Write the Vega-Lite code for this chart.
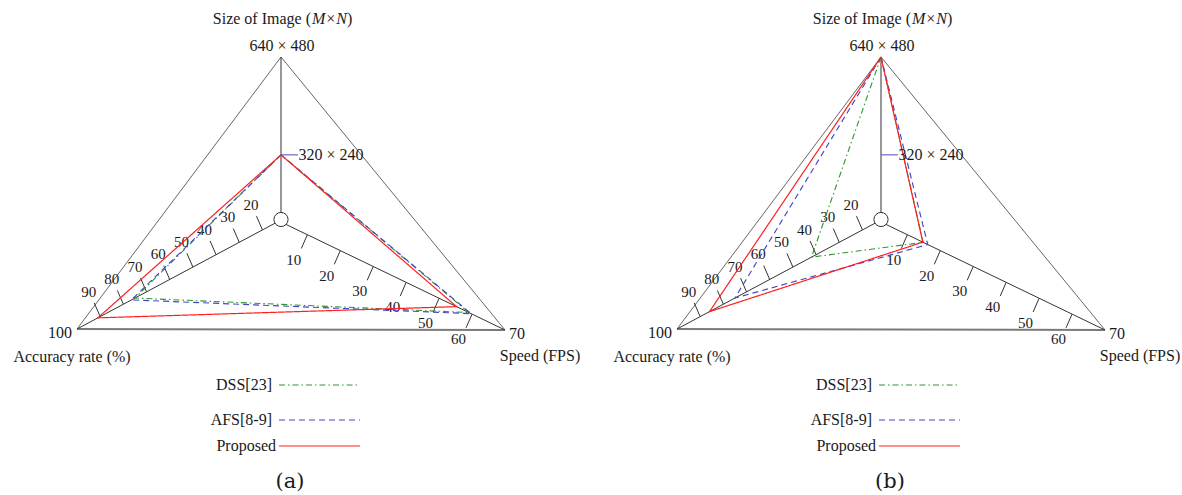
{
  "$schema": "https://vega.github.io/schema/vega-lite/v6.json",
  "width": 1182,
  "height": 495,
  "autosize": {"type": "fit", "contains": "padding"},
  "padding": 0,
  "background": "white",
  "config": {
    "view": {"stroke": null},
    "text": {"font": "Liberation Serif", "fontSize": 16, "color": "#1a1a1a", "baseline": "middle"}
  },
  "datasets": {
    "scores": [
      {"panel": "a", "method": "DSS[23]", "axis": "size", "value": 320, "o": 1},
      {"panel": "a", "method": "DSS[23]", "axis": "acc", "value": 75, "o": 2},
      {"panel": "a", "method": "DSS[23]", "axis": "spd", "value": 59, "o": 3},
      {"panel": "a", "method": "DSS[23]", "axis": "size", "value": 320, "o": 4},
      {"panel": "a", "method": "AFS[8-9]", "axis": "size", "value": 320, "o": 1},
      {"panel": "a", "method": "AFS[8-9]", "axis": "acc", "value": 76.5, "o": 2},
      {"panel": "a", "method": "AFS[8-9]", "axis": "spd", "value": 59.7, "o": 3},
      {"panel": "a", "method": "AFS[8-9]", "axis": "size", "value": 320, "o": 4},
      {"panel": "a", "method": "Proposed", "axis": "size", "value": 320, "o": 1},
      {"panel": "a", "method": "Proposed", "axis": "acc", "value": 91, "o": 2},
      {"panel": "a", "method": "Proposed", "axis": "spd", "value": 55.3, "o": 3},
      {"panel": "a", "method": "Proposed", "axis": "size", "value": 320, "o": 4},
      {"panel": "b", "method": "DSS[23]", "axis": "size", "value": 640, "o": 1},
      {"panel": "b", "method": "DSS[23]", "axis": "acc", "value": 42, "o": 2},
      {"panel": "b", "method": "DSS[23]", "axis": "spd", "value": 14.8, "o": 3},
      {"panel": "b", "method": "DSS[23]", "axis": "size", "value": 640, "o": 4},
      {"panel": "b", "method": "AFS[8-9]", "axis": "size", "value": 640, "o": 1},
      {"panel": "b", "method": "AFS[8-9]", "axis": "acc", "value": 75, "o": 2},
      {"panel": "b", "method": "AFS[8-9]", "axis": "spd", "value": 16.2, "o": 3},
      {"panel": "b", "method": "AFS[8-9]", "axis": "size", "value": 640, "o": 4},
      {"panel": "b", "method": "Proposed", "axis": "size", "value": 640, "o": 1},
      {"panel": "b", "method": "Proposed", "axis": "acc", "value": 86, "o": 2},
      {"panel": "b", "method": "Proposed", "axis": "spd", "value": 14.7, "o": 3},
      {"panel": "b", "method": "Proposed", "axis": "size", "value": 640, "o": 4}
    ],
    "frame": [
      {"panel": ["a", "b"], "seg": "edgeL", "axis": "size", "value": 640, "o": 1},
      {"panel": ["a", "b"], "seg": "edgeL", "axis": "acc", "value": 100, "o": 2},
      {"panel": ["a", "b"], "seg": "edgeR", "axis": "size", "value": 640, "o": 1},
      {"panel": ["a", "b"], "seg": "edgeR", "axis": "spd", "value": 70, "o": 2},
      {"panel": ["a", "b"], "seg": "base", "axis": "acc", "value": 100, "o": 1},
      {"panel": ["a", "b"], "seg": "base", "axis": "spd", "value": 70, "o": 2},
      {"panel": ["a", "b"], "seg": "axS", "axis": "size", "value": 107, "o": 1},
      {"panel": ["a", "b"], "seg": "axS", "axis": "size", "value": 640, "o": 2},
      {"panel": ["a", "b"], "seg": "axA", "axis": "acc", "value": 12, "o": 1},
      {"panel": ["a", "b"], "seg": "axA", "axis": "acc", "value": 100, "o": 2},
      {"panel": ["a", "b"], "seg": "axP", "axis": "spd", "value": 2, "o": 1},
      {"panel": ["a", "b"], "seg": "axP", "axis": "spd", "value": 70, "o": 2}
    ],
    "ticks": [
      {"panel": ["a", "b"], "axis": "acc", "value": 20},
      {"panel": ["a", "b"], "axis": "acc", "value": 30},
      {"panel": ["a", "b"], "axis": "acc", "value": 40},
      {"panel": ["a", "b"], "axis": "acc", "value": 50},
      {"panel": ["a", "b"], "axis": "acc", "value": 60},
      {"panel": ["a", "b"], "axis": "acc", "value": 70},
      {"panel": ["a", "b"], "axis": "acc", "value": 80},
      {"panel": ["a", "b"], "axis": "acc", "value": 90},
      {"panel": ["a", "b"], "axis": "spd", "value": 10},
      {"panel": ["a", "b"], "axis": "spd", "value": 20},
      {"panel": ["a", "b"], "axis": "spd", "value": 30},
      {"panel": ["a", "b"], "axis": "spd", "value": 40},
      {"panel": ["a", "b"], "axis": "spd", "value": 50},
      {"panel": ["a", "b"], "axis": "spd", "value": 60}
    ],
    "center": [
      {"panel": ["a", "b"], "axis": "acc", "value": 12}
    ],
    "sizetick": [
      {"panel": ["a", "b"], "axis": "size", "value": 320}
    ],
    "vlabels": [
      {"panel": ["a", "b"], "axis": "acc", "value": 100, "text": "100"},
      {"panel": ["a", "b"], "axis": "spd", "value": 70, "text": "70"},
      {"panel": ["a", "b"], "axis": "size", "value": 640, "text": "640 × 480"},
      {"panel": ["a", "b"], "axis": "size", "value": 320, "text": "320 × 240"}
    ],
    "titles": [
      {"panel": ["a", "b"], "axis": "acc", "value": 100, "part": "acc", "text": "Accuracy rate (%)"},
      {"panel": ["a", "b"], "axis": "spd", "value": 70, "part": "spd", "text": "Speed (FPS)"},
      {"panel": ["a", "b"], "axis": "size", "value": 640, "part": "s1", "text": "Size of Image ("},
      {"panel": ["a", "b"], "axis": "size", "value": 640, "part": "s2", "text": "M×N"},
      {"panel": ["a", "b"], "axis": "size", "value": 640, "part": "s3", "text": ")"}
    ],
    "legend": [
      {"panel": ["a", "b"], "method": "DSS[23]"},
      {"panel": ["a", "b"], "method": "AFS[8-9]"},
      {"panel": ["a", "b"], "method": "Proposed"}
    ],
    "captions": [
      {"panel": "a", "text": "(a)"},
      {"panel": "b", "text": "(b)"}
    ]
  },
  "encoding": {
    "x": {"field": "x", "type": "quantitative", "scale": {"domain": [0, 1182], "nice": false, "zero": false}, "axis": null},
    "y": {"field": "y", "type": "quantitative", "scale": {"domain": [0, 495], "nice": false, "zero": false, "reverse": true}, "axis": null}
  },
  "layer": [
    {
      "data": {"name": "frame"},
      "transform": [
        {"flatten": ["panel"]},
        {"filter": "datum.seg === 'edgeL' || datum.seg === 'edgeR'"},
        {"calculate": "datum.panel === 'b' ? 600 : 0", "as": "dx"},
        {"calculate": "datum.axis === 'acc' ? (datum.value - 12) / 88 : datum.axis === 'spd' ? (datum.value - 2) / 68 : (datum.value - 107) / 533", "as": "t"},
        {"calculate": "281 + datum.dx + datum.t * (datum.axis === 'acc' ? -204 : datum.axis === 'spd' ? 224 : 0)", "as": "x"},
        {"calculate": "(datum.axis === 'spd' ? 222 : 220) + datum.t * (datum.axis === 'acc' ? 109 : datum.axis === 'spd' ? 108 : -163)", "as": "y"}
      ],
      "mark": {"type": "line", "color": "#555555", "strokeWidth": 0.9},
      "encoding": {"detail": [{"field": "panel"}, {"field": "seg"}], "order": {"field": "o", "type": "quantitative"}}
    },
    {
      "data": {"name": "frame"},
      "transform": [
        {"flatten": ["panel"]},
        {"filter": "datum.seg === 'base'"},
        {"calculate": "datum.panel === 'b' ? 600 : 0", "as": "dx"},
        {"calculate": "datum.axis === 'acc' ? (datum.value - 12) / 88 : datum.axis === 'spd' ? (datum.value - 2) / 68 : (datum.value - 107) / 533", "as": "t"},
        {"calculate": "281 + datum.dx + datum.t * (datum.axis === 'acc' ? -204 : datum.axis === 'spd' ? 224 : 0)", "as": "x"},
        {"calculate": "(datum.axis === 'spd' ? 222 : 220) + datum.t * (datum.axis === 'acc' ? 109 : datum.axis === 'spd' ? 108 : -163)", "as": "y"}
      ],
      "mark": {"type": "line", "color": "#7a7a7a", "strokeWidth": 2},
      "encoding": {"detail": [{"field": "panel"}, {"field": "seg"}], "order": {"field": "o", "type": "quantitative"}}
    },
    {
      "data": {"name": "frame"},
      "transform": [
        {"flatten": ["panel"]},
        {"filter": "datum.seg === 'axS' || datum.seg === 'axA' || datum.seg === 'axP'"},
        {"calculate": "datum.panel === 'b' ? 600 : 0", "as": "dx"},
        {"calculate": "datum.axis === 'acc' ? (datum.value - 12) / 88 : datum.axis === 'spd' ? (datum.value - 2) / 68 : (datum.value - 107) / 533", "as": "t"},
        {"calculate": "281 + datum.dx + datum.t * (datum.axis === 'acc' ? -204 : datum.axis === 'spd' ? 224 : 0)", "as": "x"},
        {"calculate": "(datum.axis === 'spd' ? 222 : 220) + datum.t * (datum.axis === 'acc' ? 109 : datum.axis === 'spd' ? 108 : -163)", "as": "y"}
      ],
      "mark": {"type": "line", "color": "#333333", "strokeWidth": 1},
      "encoding": {"detail": [{"field": "panel"}, {"field": "seg"}], "order": {"field": "o", "type": "quantitative"}}
    },
    {
      "data": {"name": "ticks"},
      "transform": [
        {"flatten": ["panel"]},
        {"calculate": "datum.panel === 'b' ? 600 : 0", "as": "dx"},
        {"calculate": "datum.axis === 'acc' ? (datum.value - 12) / 88 : datum.axis === 'spd' ? (datum.value - 2) / 68 : (datum.value - 107) / 533", "as": "t"},
        {"calculate": "281 + datum.dx + datum.t * (datum.axis === 'acc' ? -204 : datum.axis === 'spd' ? 224 : 0)", "as": "x"},
        {"calculate": "(datum.axis === 'spd' ? 222 : 220) + datum.t * (datum.axis === 'acc' ? 109 : datum.axis === 'spd' ? 108 : -163)", "as": "y"},
        {"calculate": "datum.x - 15 * 0.4", "as": "x2"},
        {"calculate": "datum.y + 15 * (datum.axis === 'acc' ? -0.917 : 0.917)", "as": "y2"}
      ],
      "mark": {"type": "rule", "color": "#333333", "strokeWidth": 1},
      "encoding": {"x2": {"field": "x2"}, "y2": {"field": "y2"}}
    },
    {
      "data": {"name": "ticks"},
      "transform": [
        {"flatten": ["panel"]},
        {"calculate": "datum.panel === 'b' ? 600 : 0", "as": "dx"},
        {"calculate": "datum.axis === 'acc' ? (datum.value - 12) / 88 : datum.axis === 'spd' ? (datum.value - 2) / 68 : (datum.value - 107) / 533", "as": "t"},
        {"calculate": "281 + datum.dx + datum.t * (datum.axis === 'acc' ? -204 : datum.axis === 'spd' ? 224 : 0)", "as": "x"},
        {"calculate": "(datum.axis === 'spd' ? 222 : 220) + datum.t * (datum.axis === 'acc' ? 109 : datum.axis === 'spd' ? 108 : -163)", "as": "y"},
        {"calculate": "datum.x + (datum.axis === 'acc' ? -11.5 : -13.5)", "as": "x"},
        {"calculate": "datum.y + (datum.axis === 'acc' ? -25 : 25)", "as": "y"}
      ],
      "mark": {"type": "text", "align": "center", "fontSize": 15},
      "encoding": {"text": {"field": "value", "type": "nominal"}}
    },
    {
      "data": {"name": "center"},
      "transform": [
        {"flatten": ["panel"]},
        {"calculate": "datum.panel === 'b' ? 600 : 0", "as": "dx"},
        {"calculate": "281 + datum.dx", "as": "x"},
        {"calculate": "219.5", "as": "y"}
      ],
      "mark": {"type": "point", "shape": "circle", "filled": true, "fill": "white", "stroke": "#333333", "strokeWidth": 1, "size": 200, "opacity": 1}
    },
    {
      "data": {"name": "sizetick"},
      "transform": [
        {"flatten": ["panel"]},
        {"calculate": "datum.panel === 'b' ? 600 : 0", "as": "dx"},
        {"calculate": "datum.axis === 'acc' ? (datum.value - 12) / 88 : datum.axis === 'spd' ? (datum.value - 2) / 68 : (datum.value - 107) / 533", "as": "t"},
        {"calculate": "281 + datum.dx + datum.t * (datum.axis === 'acc' ? -204 : datum.axis === 'spd' ? 224 : 0)", "as": "x"},
        {"calculate": "(datum.axis === 'spd' ? 222 : 220) + datum.t * (datum.axis === 'acc' ? 109 : datum.axis === 'spd' ? 108 : -163)", "as": "y"},
        {"calculate": "datum.x + 17", "as": "x2"}
      ],
      "mark": {"type": "rule", "color": "#4a4ac4", "strokeWidth": 1},
      "encoding": {"x2": {"field": "x2"}}
    },
    {
      "data": {"name": "scores"},
      "transform": [
        {"calculate": "datum.panel === 'b' ? 600 : 0", "as": "dx"},
        {"calculate": "datum.axis === 'acc' ? (datum.value - 12) / 88 : datum.axis === 'spd' ? (datum.value - 2) / 68 : (datum.value - 107) / 533", "as": "t"},
        {"calculate": "281 + datum.dx + datum.t * (datum.axis === 'acc' ? -204 : datum.axis === 'spd' ? 224 : 0)", "as": "x"},
        {"calculate": "(datum.axis === 'spd' ? 222 : 220) + datum.t * (datum.axis === 'acc' ? 109 : datum.axis === 'spd' ? 108 : -163)", "as": "y"}
      ],
      "mark": {"type": "line"},
      "encoding": {
        "detail": {"field": "panel"},
        "order": {"field": "o", "type": "quantitative"},
        "color": {"field": "method", "type": "nominal", "scale": {"domain": ["DSS[23]", "AFS[8-9]", "Proposed"], "range": ["#2f962f", "#4646c4", "#ff1f1f"]}, "legend": null},
        "strokeDash": {"field": "method", "type": "nominal", "scale": {"domain": ["DSS[23]", "AFS[8-9]", "Proposed"], "range": [[6, 3, 1.5, 3], [6, 4], [1, 0]]}, "legend": null},
        "strokeWidth": {"field": "method", "type": "nominal", "scale": {"domain": ["DSS[23]", "AFS[8-9]", "Proposed"], "range": [1.1, 1.2, 1.8]}, "legend": null}
      }
    },
    {
      "data": {"name": "vlabels"},
      "transform": [
        {"flatten": ["panel"]},
        {"filter": "datum.axis === 'acc'"},
        {"calculate": "datum.panel === 'b' ? 600 : 0", "as": "dx"},
        {"calculate": "datum.axis === 'acc' ? (datum.value - 12) / 88 : datum.axis === 'spd' ? (datum.value - 2) / 68 : (datum.value - 107) / 533", "as": "t"},
        {"calculate": "281 + datum.dx + datum.t * (datum.axis === 'acc' ? -204 : datum.axis === 'spd' ? 224 : 0)", "as": "x"},
        {"calculate": "(datum.axis === 'spd' ? 222 : 220) + datum.t * (datum.axis === 'acc' ? 109 : datum.axis === 'spd' ? 108 : -163)", "as": "y"},
        {"calculate": "datum.x - 5", "as": "x"},
        {"calculate": "datum.y + 4", "as": "y"}
      ],
      "mark": {"type": "text", "align": "right"},
      "encoding": {"text": {"field": "text"}}
    },
    {
      "data": {"name": "vlabels"},
      "transform": [
        {"flatten": ["panel"]},
        {"filter": "datum.axis === 'spd' || datum.value === 320"},
        {"calculate": "datum.panel === 'b' ? 600 : 0", "as": "dx"},
        {"calculate": "datum.axis === 'acc' ? (datum.value - 12) / 88 : datum.axis === 'spd' ? (datum.value - 2) / 68 : (datum.value - 107) / 533", "as": "t"},
        {"calculate": "281 + datum.dx + datum.t * (datum.axis === 'acc' ? -204 : datum.axis === 'spd' ? 224 : 0)", "as": "x"},
        {"calculate": "(datum.axis === 'spd' ? 222 : 220) + datum.t * (datum.axis === 'acc' ? 109 : datum.axis === 'spd' ? 108 : -163)", "as": "y"},
        {"calculate": "datum.x + (datum.axis === 'spd' ? 4 : 17.5)", "as": "x"},
        {"calculate": "datum.y + (datum.axis === 'spd' ? 4 : 0)", "as": "y"}
      ],
      "mark": {"type": "text", "align": "left"},
      "encoding": {"text": {"field": "text"}}
    },
    {
      "data": {"name": "vlabels"},
      "transform": [
        {"flatten": ["panel"]},
        {"filter": "datum.value === 640"},
        {"calculate": "datum.panel === 'b' ? 600 : 0", "as": "dx"},
        {"calculate": "datum.axis === 'acc' ? (datum.value - 12) / 88 : datum.axis === 'spd' ? (datum.value - 2) / 68 : (datum.value - 107) / 533", "as": "t"},
        {"calculate": "281 + datum.dx + datum.t * (datum.axis === 'acc' ? -204 : datum.axis === 'spd' ? 224 : 0)", "as": "x"},
        {"calculate": "(datum.axis === 'spd' ? 222 : 220) + datum.t * (datum.axis === 'acc' ? 109 : datum.axis === 'spd' ? 108 : -163)", "as": "y"},
        {"calculate": "datum.x + 1", "as": "x"},
        {"calculate": "datum.y - 11", "as": "y"}
      ],
      "mark": {"type": "text", "align": "center"},
      "encoding": {"text": {"field": "text"}}
    },
    {
      "data": {"name": "titles"},
      "transform": [
        {"flatten": ["panel"]},
        {"filter": "datum.part === 'acc' || datum.part === 'spd'"},
        {"calculate": "datum.panel === 'b' ? 600 : 0", "as": "dx"},
        {"calculate": "datum.axis === 'acc' ? (datum.value - 12) / 88 : datum.axis === 'spd' ? (datum.value - 2) / 68 : (datum.value - 107) / 533", "as": "t"},
        {"calculate": "281 + datum.dx + datum.t * (datum.axis === 'acc' ? -204 : datum.axis === 'spd' ? 224 : 0)", "as": "x"},
        {"calculate": "(datum.axis === 'spd' ? 222 : 220) + datum.t * (datum.axis === 'acc' ? 109 : datum.axis === 'spd' ? 108 : -163)", "as": "y"},
        {"calculate": "datum.x + (datum.part === 'acc' ? -5 : 35)", "as": "x"},
        {"calculate": "datum.y + (datum.part === 'acc' ? 28 : 26)", "as": "y"}
      ],
      "mark": {"type": "text", "align": "center"},
      "encoding": {"text": {"field": "text"}}
    },
    {
      "data": {"name": "titles"},
      "transform": [
        {"flatten": ["panel"]},
        {"filter": "datum.part === 's1'"},
        {"calculate": "datum.panel === 'b' ? 600 : 0", "as": "dx"},
        {"calculate": "datum.axis === 'acc' ? (datum.value - 12) / 88 : datum.axis === 'spd' ? (datum.value - 2) / 68 : (datum.value - 107) / 533", "as": "t"},
        {"calculate": "281 + datum.dx + datum.t * (datum.axis === 'acc' ? -204 : datum.axis === 'spd' ? 224 : 0)", "as": "x"},
        {"calculate": "(datum.axis === 'spd' ? 222 : 220) + datum.t * (datum.axis === 'acc' ? 109 : datum.axis === 'spd' ? 108 : -163)", "as": "y"},
        {"calculate": "datum.x + 30", "as": "x"},
        {"calculate": "datum.y - 38", "as": "y"}
      ],
      "mark": {"type": "text", "align": "right"},
      "encoding": {"text": {"field": "text"}}
    },
    {
      "data": {"name": "titles"},
      "transform": [
        {"flatten": ["panel"]},
        {"filter": "datum.part === 's2'"},
        {"calculate": "datum.panel === 'b' ? 600 : 0", "as": "dx"},
        {"calculate": "datum.axis === 'acc' ? (datum.value - 12) / 88 : datum.axis === 'spd' ? (datum.value - 2) / 68 : (datum.value - 107) / 533", "as": "t"},
        {"calculate": "281 + datum.dx + datum.t * (datum.axis === 'acc' ? -204 : datum.axis === 'spd' ? 224 : 0)", "as": "x"},
        {"calculate": "(datum.axis === 'spd' ? 222 : 220) + datum.t * (datum.axis === 'acc' ? 109 : datum.axis === 'spd' ? 108 : -163)", "as": "y"},
        {"calculate": "datum.x + 31", "as": "x"},
        {"calculate": "datum.y - 38", "as": "y"}
      ],
      "mark": {"type": "text", "align": "left", "fontStyle": "italic"},
      "encoding": {"text": {"field": "text"}}
    },
    {
      "data": {"name": "titles"},
      "transform": [
        {"flatten": ["panel"]},
        {"filter": "datum.part === 's3'"},
        {"calculate": "datum.panel === 'b' ? 600 : 0", "as": "dx"},
        {"calculate": "datum.axis === 'acc' ? (datum.value - 12) / 88 : datum.axis === 'spd' ? (datum.value - 2) / 68 : (datum.value - 107) / 533", "as": "t"},
        {"calculate": "281 + datum.dx + datum.t * (datum.axis === 'acc' ? -204 : datum.axis === 'spd' ? 224 : 0)", "as": "x"},
        {"calculate": "(datum.axis === 'spd' ? 222 : 220) + datum.t * (datum.axis === 'acc' ? 109 : datum.axis === 'spd' ? 108 : -163)", "as": "y"},
        {"calculate": "datum.x + 66", "as": "x"},
        {"calculate": "datum.y - 38", "as": "y"}
      ],
      "mark": {"type": "text", "align": "left"},
      "encoding": {"text": {"field": "text"}}
    },
    {
      "data": {"name": "legend"},
      "transform": [
        {"flatten": ["panel"]},
        {"calculate": "datum.panel === 'b' ? 600 : 0", "as": "dx"},
        {"calculate": "279 + datum.dx", "as": "x"},
        {"calculate": "360 + datum.dx", "as": "x2"},
        {"calculate": "datum.method === 'DSS[23]' ? 385 : datum.method === 'AFS[8-9]' ? 420 : 446", "as": "y"}
      ],
      "mark": {"type": "rule"},
      "encoding": {
        "x2": {"field": "x2"},
        "color": {"field": "method", "type": "nominal", "legend": null},
        "strokeDash": {"field": "method", "type": "nominal", "legend": null},
        "strokeWidth": {"field": "method", "type": "nominal", "legend": null}
      }
    },
    {
      "data": {"name": "legend"},
      "transform": [
        {"flatten": ["panel"]},
        {"calculate": "datum.panel === 'b' ? 600 : 0", "as": "dx"},
        {"calculate": "(datum.method === 'Proposed' ? 276 : 272) + datum.dx", "as": "x"},
        {"calculate": "datum.method === 'DSS[23]' ? 385 : datum.method === 'AFS[8-9]' ? 420 : 446", "as": "y"}
      ],
      "mark": {"type": "text", "align": "right"},
      "encoding": {"text": {"field": "method"}}
    },
    {
      "data": {"name": "captions"},
      "transform": [
        {"calculate": "datum.panel === 'b' ? 600 : 0", "as": "dx"},
        {"calculate": "290 + datum.dx", "as": "x"},
        {"calculate": "482", "as": "y"}
      ],
      "mark": {"type": "text", "align": "center", "fontSize": 21, "font": "DejaVu Serif"},
      "encoding": {"text": {"field": "text"}}
    }
  ]
}
